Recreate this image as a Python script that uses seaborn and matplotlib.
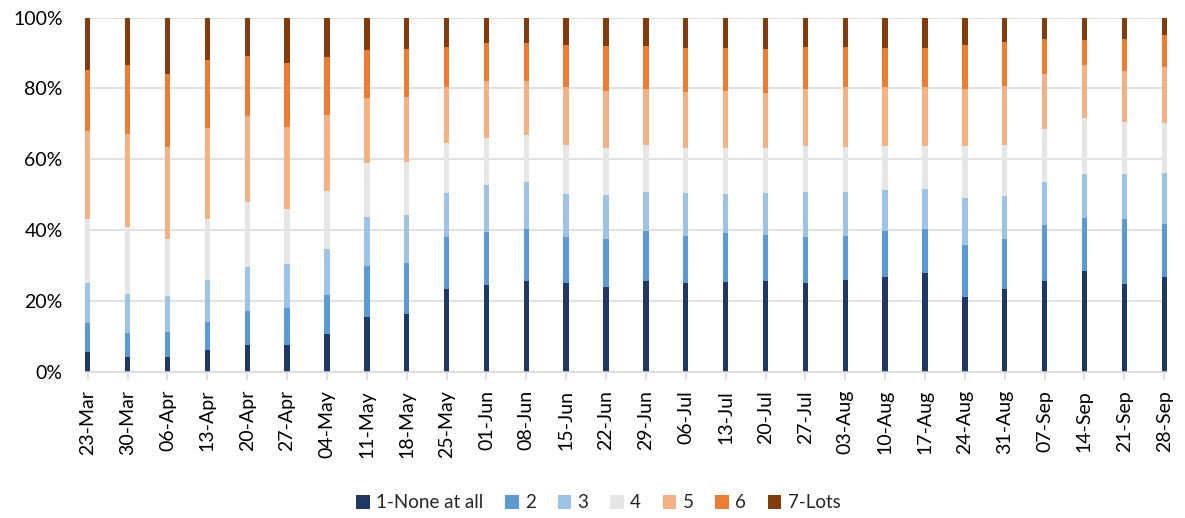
import numpy as np
import pandas as pd
import matplotlib
matplotlib.use("Agg")
import matplotlib.pyplot as plt
import seaborn as sns
from matplotlib.patches import Patch
from matplotlib.ticker import PercentFormatter

weeks = ["23-Mar", "30-Mar", "06-Apr", "13-Apr", "20-Apr", "27-Apr", "04-May",
         "11-May", "18-May", "25-May", "01-Jun", "08-Jun", "15-Jun", "22-Jun",
         "29-Jun", "06-Jul", "13-Jul", "20-Jul", "27-Jul", "03-Aug", "10-Aug",
         "17-Aug", "24-Aug", "31-Aug", "07-Sep", "14-Sep", "21-Sep", "28-Sep"]

none_at_all = [5.6, 4.3, 4.3, 6.1, 7.7, 7.7, 10.7, 15.6, 16.4, 23.4, 24.6, 25.8, 25.0, 24.1,
               25.8, 25.2, 25.5, 25.7, 25.2, 26.0, 26.9, 27.8, 21.2, 23.5, 25.8, 28.6, 24.9, 26.9]
level_2 = [8.3, 6.8, 7.0, 8.1, 9.4, 10.4, 11.1, 14.4, 14.4, 14.8, 15.0, 14.6, 13.2, 13.5,
           14.0, 13.2, 13.8, 13.0, 13.0, 12.4, 12.9, 12.5, 14.7, 14.1, 15.7, 14.9, 18.2, 14.9]
level_3 = [11.3, 10.8, 10.2, 11.7, 12.5, 12.4, 12.9, 13.8, 13.6, 12.4, 13.2, 13.2, 12.1, 12.3,
           11.0, 12.2, 11.0, 11.9, 12.6, 12.4, 11.5, 11.3, 13.1, 12.1, 12.2, 12.3, 12.7, 14.2]
level_4 = [18.0, 19.0, 16.1, 17.2, 18.4, 15.6, 16.3, 15.2, 14.8, 13.9, 13.2, 13.2, 13.6, 13.3,
           13.1, 12.5, 13.0, 12.7, 12.9, 12.7, 12.4, 12.1, 14.7, 14.3, 14.8, 15.8, 14.6, 14.1]
level_5 = [24.7, 26.2, 25.8, 25.6, 24.2, 23.1, 21.5, 18.4, 18.4, 15.9, 16.0, 15.2, 16.6, 16.2,
           15.9, 15.9, 16.0, 15.5, 16.2, 17.0, 16.8, 16.6, 16.1, 16.6, 15.5, 15.0, 14.6, 15.9]
level_6 = [17.3, 19.5, 20.6, 19.3, 16.9, 18.0, 16.3, 13.4, 13.6, 11.3, 10.9, 10.9, 11.7, 12.5,
           12.1, 12.5, 12.1, 12.3, 11.8, 11.2, 10.9, 11.1, 12.5, 12.5, 9.9, 7.0, 8.9, 9.1]
lots = [14.8, 13.4, 16.0, 12.0, 10.9, 12.8, 11.2, 9.2, 8.8, 8.3, 7.1, 7.1, 7.8, 8.1,
        8.1, 8.5, 8.6, 8.9, 8.3, 8.3, 8.6, 8.6, 7.7, 6.9, 6.1, 6.4, 6.1, 4.9]

series_names = ["1-None at all", "2", "3", "4", "5", "6", "7-Lots"]
colors = ["#203864", "#5B9BD5", "#9DC3E6", "#E7E6E6", "#F4B183", "#ED7D31", "#843C0C"]

sns.set_theme(style="white")
plt.rcParams['font.family'] = ['Lato', 'DejaVu Sans']

df = pd.DataFrame({"week": weeks, "1-None at all": none_at_all, "2": level_2, "3": level_3,
                   "4": level_4, "5": level_5, "6": level_6, "7-Lots": lots})
vals = df[series_names].to_numpy(dtype=float)
shares = vals / vals.sum(axis=1, keepdims=True) * 100.0
cum = np.cumsum(shares, axis=1)

fig, ax = plt.subplots(figsize=(11.85, 5.18), dpi=100)
fig.subplots_adjust(left=0.0717, right=0.9848, top=0.9662, bottom=0.2819)

for i in reversed(range(len(series_names))):
    sns.barplot(x=df["week"], y=cum[:, i], order=weeks, color=colors[i], saturation=1,
                width=0.135, linewidth=0, ax=ax)

ax.set_ylim(0, 100)
ax.set_xlim(-0.07, len(weeks) - 1 + 0.07)
ax.yaxis.set_major_locator(matplotlib.ticker.MultipleLocator(20))
ax.yaxis.set_major_formatter(PercentFormatter(decimals=0))
ax.set_axisbelow(True)
ax.grid(axis="y", color="#D9D9D9", linewidth=1.1)
ax.grid(axis="x", visible=False)
for s in ["top", "right", "left"]:
    ax.spines[s].set_visible(False)
ax.spines["bottom"].set_color("#D9D9D9")
ax.spines["bottom"].set_linewidth(1.1)
ax.set_xlabel("")
ax.set_ylabel("")
ax.tick_params(axis="x", rotation=90, length=6, width=1.1, color="#D9D9D9", pad=7,
               labelsize=14, labelcolor="#000000", bottom=True)
ax.tick_params(axis="y", length=0, pad=16, labelsize=14, labelcolor="#000000")

handles = [Patch(facecolor=c, edgecolor="none", label=n) for n, c in zip(series_names, colors)]
fig.legend(handles=handles, loc="center", bbox_to_anchor=(0.505, 0.029), ncol=7, frameon=False,
           fontsize=13.5, handlelength=0.72, handleheight=0.72, handletextpad=0.35,
           columnspacing=1.15)

fig.savefig("out.png", dpi=100)
